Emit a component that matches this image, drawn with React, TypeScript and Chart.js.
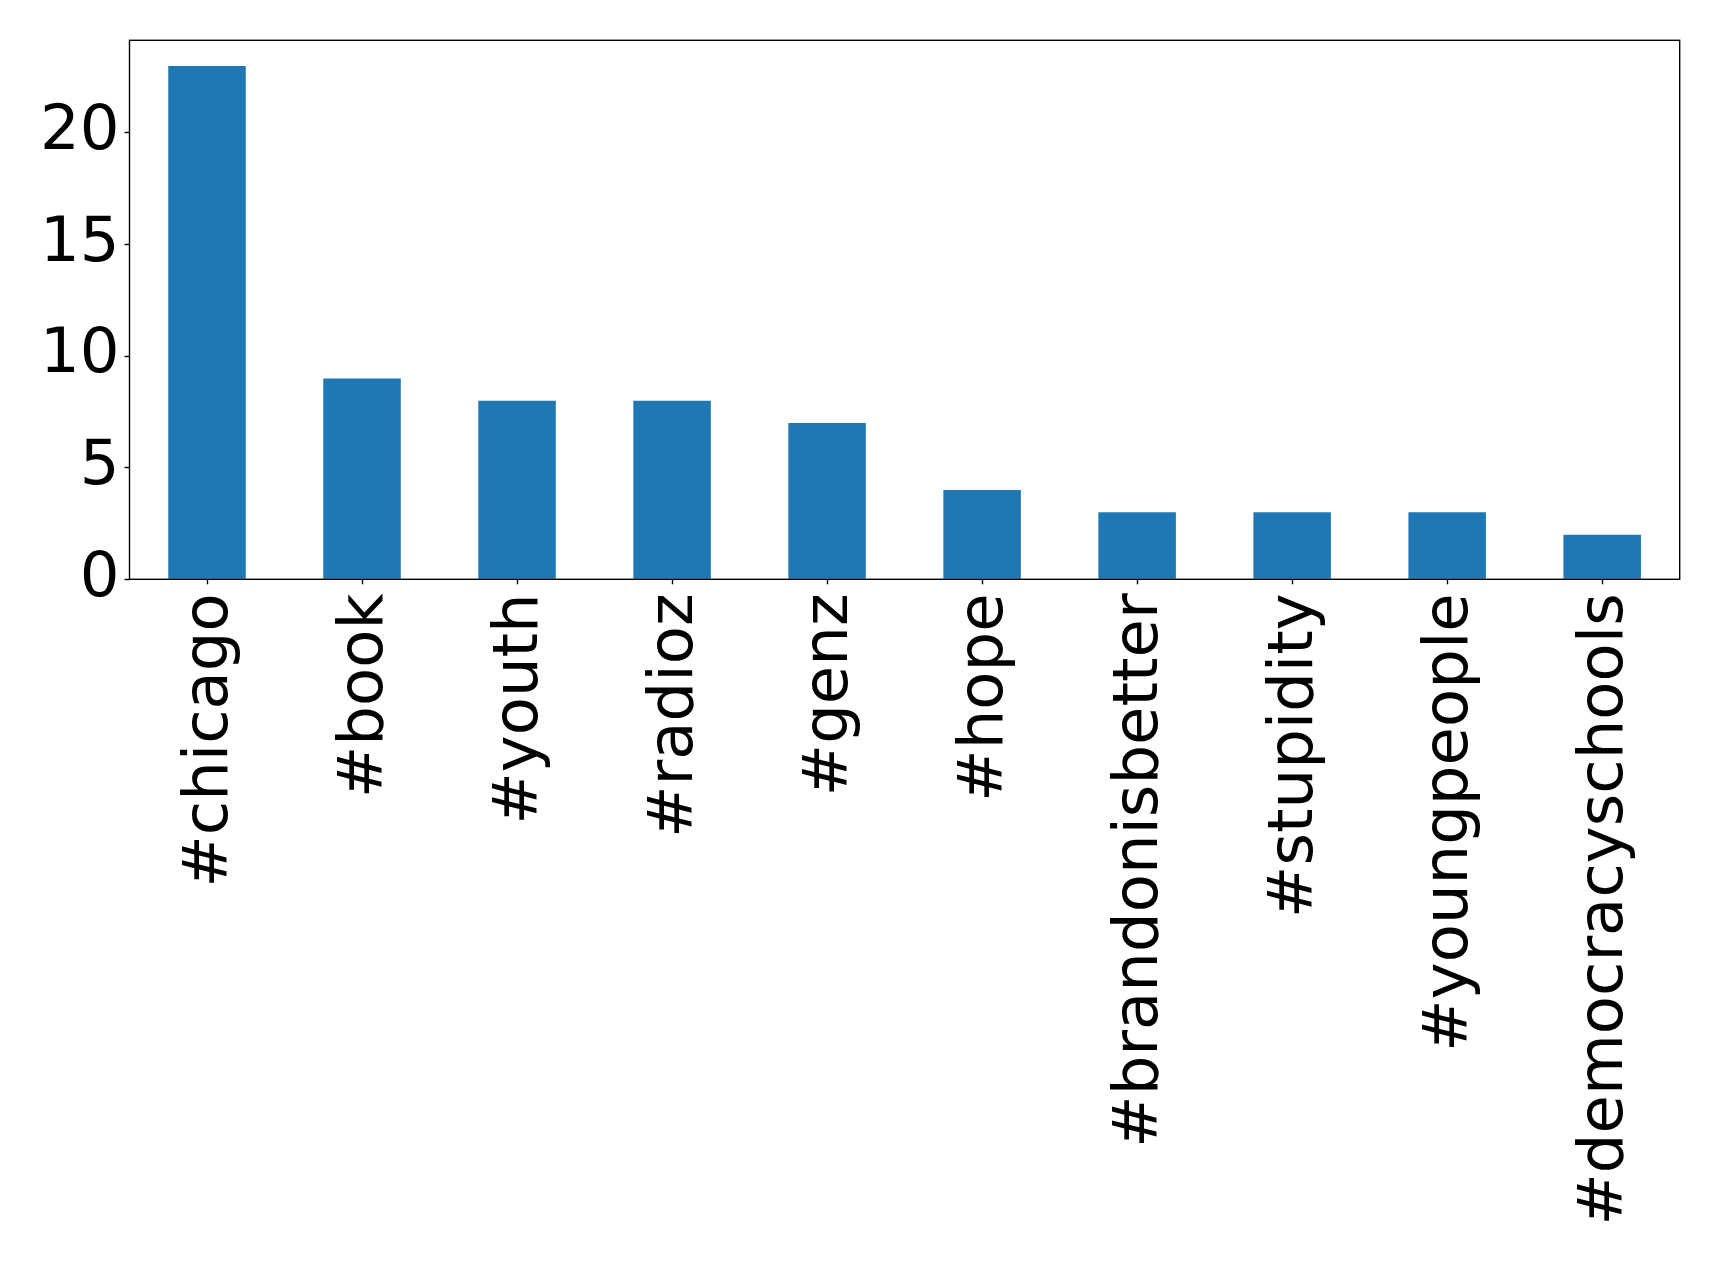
import React, { useEffect, useRef } from "react";
import { Chart, registerables } from "chart.js";

Chart.register(...registerables);

const categories = [
  "#chicago",
  "#book",
  "#youth",
  "#radioz",
  "#genz",
  "#hope",
  "#brandonisbetter",
  "#stupidity",
  "#youngpeople",
  "#democracyschools",
];
const counts = [23, 9, 8, 8, 7, 4, 3, 3, 3, 2];
const yTicks = [0, 5, 10, 15, 20];
const yMax = 24.15;

const frame = {
  id: "frame",
  afterDraw(chart: any) {
    const { ctx, chartArea } = chart;
    ctx.save();
    ctx.strokeStyle = "#000";
    ctx.lineWidth = 1.4;
    ctx.strokeRect(chartArea.left, chartArea.top, chartArea.right - chartArea.left, chartArea.bottom - chartArea.top);
    ctx.restore();
  },
};

export default function App() {
  const ref = useRef<HTMLCanvasElement>(null);
  useEffect(() => {
    document.body.style.margin = "0";
    const font = { family: "'DejaVu Sans', sans-serif", size: 62.5 };
    const chart = new Chart(ref.current!, {
      type: "bar",
      data: {
        labels: categories,
        datasets: [
          {
            data: counts,
            backgroundColor: "#1f77b4",
            categoryPercentage: 1,
            barPercentage: 0.5,
          },
        ],
      },
      options: {
        animation: false,
        responsive: false,
        layout: { padding: { top: 40.3, right: 39.3, left: 0, bottom: 0 } },
        plugins: { legend: { display: false }, tooltip: { enabled: false } },
        scales: {
          x: {
            offset: true,
            border: { display: false },
            grid: {
              drawOnChartArea: false,
              drawTicks: true,
              tickLength: 5,
              tickColor: "#000",
              tickWidth: 1.4,
              offset: false,
            },
            ticks: {
              color: "#000",
              font,
              minRotation: 90,
              maxRotation: 90,
              padding: 9,
              labelOffset: 4,
              autoSkip: false,
            },
            afterFit(scale: any) {
              scale.height = 1261 - 579.3;
              scale.paddingLeft = 0;
              scale.paddingRight = 0;
            },
          },
          y: {
            min: 0,
            max: yMax,
            border: { display: false },
            grid: {
              drawOnChartArea: false,
              drawTicks: true,
              tickLength: 5,
              tickColor: "#000",
              tickWidth: 1.4,
            },
            ticks: { color: "#000", font, padding: 5 },
            afterBuildTicks(scale: any) {
              scale.ticks = yTicks.map((v) => ({ value: v }));
            },
            afterFit(scale: any) {
              scale.width = 129.5;
              scale.paddingTop = 0;
              scale.paddingBottom = 0;
            },
          },
        },
      },
      plugins: [frame],
    });
    return () => chart.destroy();
  }, []);
  return (
    <div style={{ position: "absolute", left: 0, top: 0, width: 1719, height: 1261, background: "#fff" }}>
      <canvas ref={ref} width={1719} height={1261} style={{ width: 1719, height: 1261, display: "block" }} />
    </div>
  );
}
